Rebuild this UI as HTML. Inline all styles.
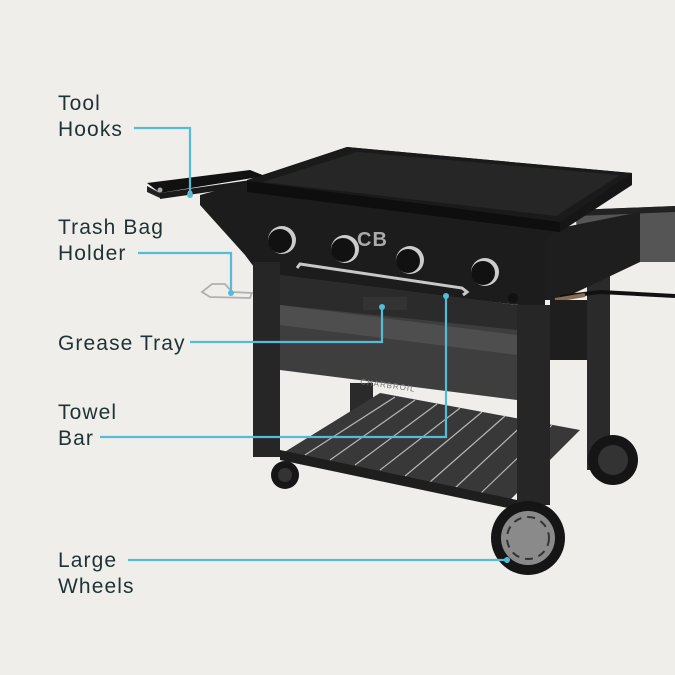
<!DOCTYPE html>
<html><head><style>
html,body{margin:0;padding:0;background:#efeeea;}
svg{display:block}
text{font-family:"Liberation Sans",sans-serif;font-size:21px;fill:#1f3235;letter-spacing:1.1px}
</style></head><body>
<svg width="675" height="675" viewBox="0 0 675 675" xmlns="http://www.w3.org/2000/svg">
<rect width="675" height="675" fill="#efeeea"/>
<!-- back right leg & wheel -->
<rect x="587" y="265" width="23" height="205" fill="#2a2a2a"/>
<circle cx="613" cy="460" r="25" fill="#151515"/>
<circle cx="613" cy="460" r="15" fill="#333"/>
<!-- right shelf -->
<polygon points="575,210 675,206 675,262 580,262" fill="#555"/>
<polygon points="575,210 675,206 675,212 578,216" fill="#222"/>
<polygon points="540,232 640,212 640,262 560,300 545,300" fill="#1e1e1e"/>
<path d="M560 297 L600 292 L675 296" stroke="#111" stroke-width="4" fill="none"/>
<path d="M555 300 L585 295" stroke="#8a6a50" stroke-width="4"/>
<!-- left shelf -->
<polygon points="147,183 250,170 265,176 160,193" fill="#111"/>
<polygon points="147,186 160,193 160,198 147,192" fill="#222"/>
<polygon points="160,193 265,178 265,184 160,199" fill="#1a1a1a"/>
<circle cx="160" cy="190" r="2.5" fill="#aaa"/><circle cx="190" cy="193" r="2.5" fill="#aaa"/><circle cx="210" cy="200" r="2.5" fill="#aaa"/>
<!-- trash bag holder wire -->
<path d="M202 292 L212 284 L225 284 L232 292 L252 293 L250 298 L210 297 Z" stroke="#b0b0b0" stroke-width="1.8" fill="none"/>
<!-- main body / control panel -->
<polygon points="200,195 248,182 560,224 545,240 545,308 260,275 245,255 200,205" fill="#1c1c1c"/>
<!-- griddle -->
<polygon points="347,147 632,173 632,185 560,232 247,192 247,180" fill="#161616"/>
<polygon points="347,147 632,173 560,222 247,181" fill="#1a1a1a"/>
<polygon points="357,152 620,175 556,216 263,182" fill="#262626"/>
<polygon points="247,181 560,222 560,232 247,192" fill="#0e0e0e"/>
<!-- front leg left -->
<rect x="253" y="262" width="27" height="195" fill="#262626"/>
<!-- back left leg -->
<rect x="350" y="383" width="23" height="90" fill="#2a2a2a"/>
<!-- apron under panel -->
<polygon points="280,275 517,305 517,400 280,370" fill="#3e3e3e"/>
<polygon points="280,275 517,305 517,330 280,305" fill="#2b2b2b"/>
<polygon points="280,305 517,335 517,355 280,325" fill="#4e4e4e"/>
<text x="360" y="384" style="font-size:8px;fill:#777;letter-spacing:1px" transform="rotate(8 360 384)">CHARBROIL</text>
<!-- slatted shelf -->
<polygon points="283,453 380,393 580,430 507,503" fill="#383838"/>
<g stroke="#b5b5b5" stroke-width="1.2">
<line x1="305" y1="455" x2="395" y2="397"/><line x1="330" y1="460" x2="415" y2="400"/>
<line x1="355" y1="465" x2="437" y2="404"/><line x1="380" y1="470" x2="460" y2="408"/>
<line x1="405" y1="476" x2="482" y2="412"/><line x1="430" y1="482" x2="505" y2="416"/>
<line x1="455" y1="488" x2="528" y2="420"/><line x1="480" y1="494" x2="552" y2="425"/>
</g>
<polygon points="280,450 517,500 517,510 280,460" fill="#1e1e1e"/>
<!-- front right leg -->
<rect x="517" y="305" width="33" height="200" fill="#262626"/>
<rect x="550" y="300" width="37" height="60" fill="#1e1e1e"/>
<!-- casters -->
<circle cx="285" cy="475" r="14" fill="#161616"/>
<circle cx="285" cy="475" r="7" fill="#333"/>
<!-- large front wheel -->
<circle cx="528" cy="538" r="37" fill="#151515"/>
<circle cx="528" cy="538" r="27" fill="#8a8a8a"/>
<circle cx="528" cy="538" r="21" fill="none" stroke="#333" stroke-width="2" stroke-dasharray="8 6"/>
<!-- knobs -->
<g>
<circle cx="282" cy="240" r="14" fill="#ccc"/><circle cx="280" cy="241" r="12" fill="#111"/>
<circle cx="345" cy="249" r="14" fill="#ccc"/><circle cx="343" cy="250" r="12" fill="#111"/>
<circle cx="410" cy="260" r="14" fill="#ccc"/><circle cx="408" cy="261" r="12" fill="#111"/>
<circle cx="485" cy="272" r="14" fill="#ccc"/><circle cx="483" cy="273" r="12" fill="#111"/>
</g>
<text x="357" y="246" style="font-size:20px;fill:#aaa;font-weight:bold">CB</text>
<!-- towel bar -->
<path d="M297 268 L300 264 L462 288 L467 292 L463 295" stroke="#c8c8c8" stroke-width="3" fill="none"/>
<rect x="363" y="297" width="44" height="13" fill="#333"/>
<circle cx="513" cy="298" r="5" fill="#111"/>
<!-- callouts -->
<g stroke="#54bcd6" stroke-width="2.2" fill="none">
<polyline points="134,128 190,128 190,195"/>
<polyline points="138,253 231,253 231,293"/>
<polyline points="190,342 382,342 382,307"/>
<polyline points="100,437 446,437 446,296"/>
<polyline points="128,560 507,560"/>
</g>
<g fill="#54bcd6">
<circle cx="190" cy="195" r="3"/><circle cx="231" cy="293" r="3"/><circle cx="382" cy="307" r="3"/><circle cx="446" cy="296" r="3"/><circle cx="507" cy="560" r="3"/>
</g>
<text x="58" y="110">Tool</text>
<text x="58" y="136">Hooks</text>
<text x="58" y="234">Trash Bag</text>
<text x="58" y="260">Holder</text>
<text x="58" y="350">Grease Tray</text>
<text x="58" y="419">Towel</text>
<text x="58" y="445">Bar</text>
<text x="58" y="567">Large</text>
<text x="58" y="593">Wheels</text>
</svg>
</body></html>
